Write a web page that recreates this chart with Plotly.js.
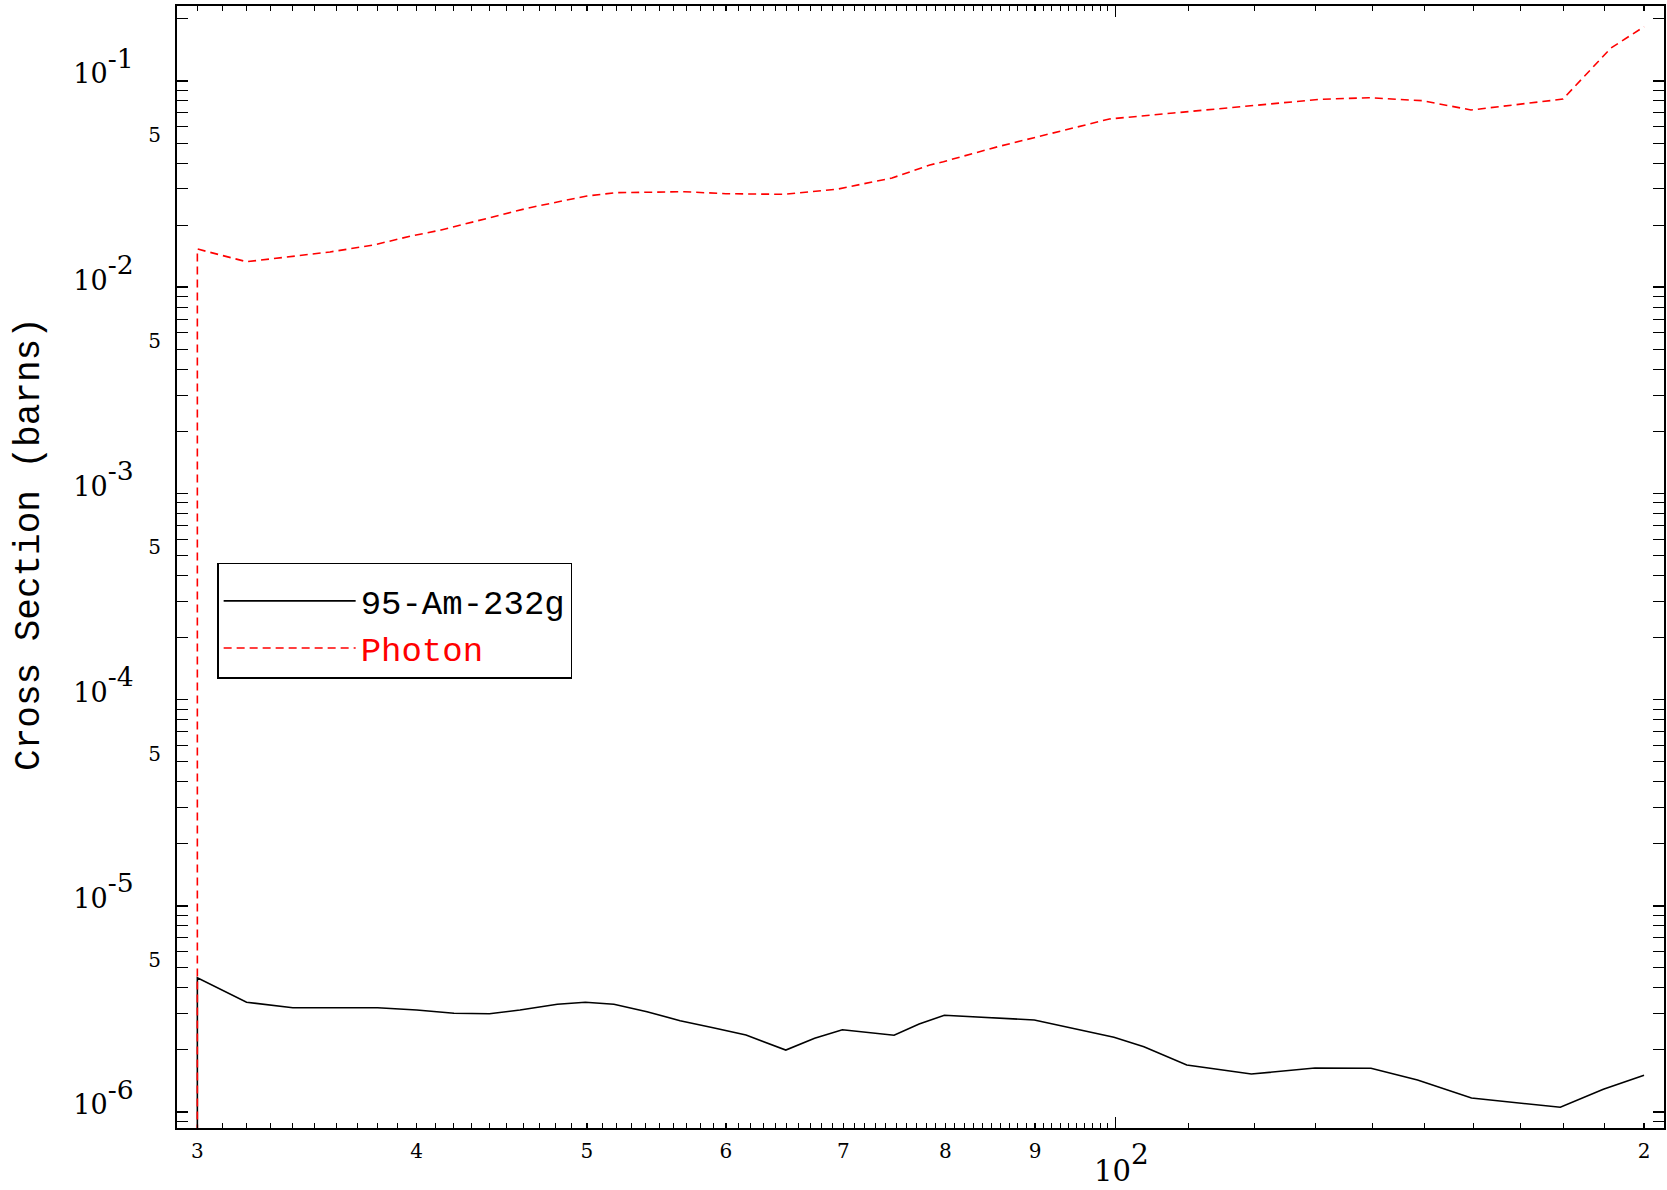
<!DOCTYPE html>
<html>
<head>
<meta charset="utf-8">
<script src="https://cdn.plot.ly/plotly-3.0.1.min.js"></script>
<style>html,body{margin:0;padding:0;background:#fff;}#chart{width:1667px;height:1190px;}</style>
</head>
<body>
<div id="chart"></div>
<script>
// ---- data ----
const energyAm = [30, 30, 32, 34, 38, 40, 42, 44, 45.8, 48.1, 49.9, 51.8, 54.1, 56.5, 59, 61.6, 64.9, 67.4, 69.9, 74.8, 77.3, 79.9, 89.9, 99.8, 103.8, 109.8, 119.5, 129.9, 139.8, 148.6, 159.5, 179.2, 189.6, 200];
const xsAm = [1e-9, 4.48e-6, 3.404e-6, 3.205e-6, 3.205e-6, 3.124e-6, 3.011e-6, 2.997e-6, 3.124e-6, 3.329e-6, 3.404e-6, 3.329e-6, 3.065e-6, 2.772e-6, 2.563e-6, 2.362e-6, 1.998e-6, 2.277e-6, 2.506e-6, 2.355e-6, 2.672e-6, 2.944e-6, 2.793e-6, 2.303e-6, 2.073e-6, 1.690e-6, 1.528e-6, 1.634e-6, 1.631e-6, 1.429e-6, 1.169e-6, 1.054e-6, 1.288e-6, 1.507e-6];

const energyPhoton = [30, 30, 32, 35.7, 37.8, 39.7, 41.3, 44, 46.3, 48.1, 50, 51.9, 56.8, 60, 64.8, 69.5, 74.6, 78.4, 79.8, 85.7, 91.3, 99.2, 107.9, 118, 130.8, 139.4, 149.6, 159.4, 179.8, 191.5, 200];
const xsPhoton = [1e-9, 0.01532, 0.01329, 0.01482, 0.01602, 0.01771, 0.01894, 0.02166, 0.02422, 0.02589, 0.02769, 0.02873, 0.02904, 0.02840, 0.02821, 0.02993, 0.03385, 0.03914, 0.04062, 0.04801, 0.05470, 0.06541, 0.06996, 0.07505, 0.08152, 0.08298, 0.08025, 0.07234, 0.0817, 0.1445, 0.1834];

const seriesNames = ['95-Am-232g', 'Photon'];
const seriesColors = ['#000000', '#ff0000'];
const yTitle = 'Cross Section (barns)';

const xTickVals = [30, 40, 50, 60, 70, 80, 90, 200];
const xTickText = ['3', '4', '5', '6', '7', '8', '9', '2'];
const xDecadeVals = [100];
const xDecadeText = ['10<span style="font-size:40px"><sup>2</sup></span>'];
const xMinorVals = [];
for (let v = 31; v < 100; v++) { if (v % 10 !== 0) xMinorVals.push(v); }
for (let v = 110; v < 200; v += 10) xMinorVals.push(v);

const yTickVals = [1e-1, 1e-2, 1e-3, 1e-4, 1e-5, 1e-6];
const yExponents = ['-1', '-2', '-3', '-4', '-5', '-6'];
const yTickText = yExponents.map(e => '10<span style="font-size:38px"><sup>' + e + '</sup></span>');
const yFiveVals = [5e-2, 5e-3, 5e-4, 5e-5, 5e-6];
const yFiveText = ['5', '5', '5', '5', '5'];
const yMinorVals = [];
for (let e = -7; e <= -1; e++) { for (let m = 2; m <= 9; m++) yMinorVals.push(m * Math.pow(10, e)); }

const xRange = [Math.log10(29.21), Math.log10(205.3)];
const yRange = [-6.0776, -0.6363];

const traces = [
  {x: energyAm, y: xsAm, name: seriesNames[0], type: 'scatter', mode: 'lines',
   line: {color: seriesColors[0], width: 1.6}},
  {x: energyPhoton, y: xsPhoton, name: '<span style="color:#ff0000">' + seriesNames[1] + '</span>', type: 'scatter', mode: 'lines',
   line: {color: seriesColors[1], width: 1.6, dash: '8px,5px'}},
  // helpers (draw nothing) so that the overlay axes carrying extra tick labels are rendered
  {x: energyAm, y: xsAm, xaxis: 'x2', yaxis: 'y', mode: 'none', type: 'scatter', showlegend: false, hoverinfo: 'skip'},
  {x: energyAm, y: xsAm, xaxis: 'x', yaxis: 'y2', mode: 'none', type: 'scatter', showlegend: false, hoverinfo: 'skip'}
];

const layout = {
  width: 1667, height: 1190,
  margin: {l: 177, r: 3, t: 6, b: 62, pad: 0},
  paper_bgcolor: '#fff', plot_bgcolor: '#fff',
  showlegend: true,
  legend: {
    x: 0.027, y: 0.5036, xanchor: 'left', yanchor: 'top',
    bordercolor: '#000', borderwidth: 1.5, bgcolor: '#fff',
    font: {family: 'Liberation Mono, monospace', size: 34, color: '#000'},
    title: {text: ' ', font: {size: 6}},
    itemwidth: 132, tracegroupgap: 0
  },
  annotations: [
    {text: yTitle, xref: 'paper', yref: 'paper', x: -0.0989, y: 0.5205,
     xanchor: 'center', yanchor: 'middle', textangle: -90, showarrow: false,
     font: {family: 'Liberation Mono, monospace', size: 36, color: '#000'}}
  ],
  xaxis: {
    type: 'log', range: xRange, showgrid: false, zeroline: false,
    showline: true, linecolor: '#000', linewidth: 2, mirror: 'allticks',
    ticks: 'inside', ticklen: 5, tickwidth: 1.5, tickcolor: '#000',
    tickmode: 'array', tickvals: xTickVals, ticktext: xTickText,
    tickfont: {family: 'DejaVu Serif, serif', size: 20, color: '#000'},
    ticklabelstandoff: 4,
    minor: {tickmode: 'array', tickvals: xMinorVals, ticks: 'inside', ticklen: 3, tickwidth: 1, tickcolor: '#000', showgrid: false}
  },
  xaxis2: {
    type: 'log', range: xRange, overlaying: 'x', anchor: 'y', side: 'bottom',
    showgrid: false, zeroline: false, showline: false, mirror: 'ticks',
    ticks: 'inside', ticklen: 11, tickwidth: 1.5, tickcolor: '#000',
    tickmode: 'array', tickvals: xDecadeVals, ticktext: xDecadeText,
    tickfont: {family: 'DejaVu Serif, serif', size: 29, color: '#000'},
    ticklabelstandoff: 23, ticklabelshift: 6
  },
  yaxis: {
    type: 'log', range: yRange, showgrid: false, zeroline: false,
    showline: true, linecolor: '#000', linewidth: 2, mirror: 'allticks',
    ticks: 'inside', ticklen: 11, tickwidth: 1.5, tickcolor: '#000',
    tickmode: 'array', tickvals: yTickVals, ticktext: yTickText,
    tickfont: {family: 'DejaVu Serif, serif', size: 27, color: '#000'},
    ticklabelstandoff: 36, ticklabelshift: -7,
    minor: {tickmode: 'array', tickvals: yMinorVals, ticks: 'inside', ticklen: 5, tickwidth: 1, tickcolor: '#000', showgrid: false}
  },
  yaxis2: {
    type: 'log', range: yRange, overlaying: 'y', anchor: 'x', side: 'left',
    showgrid: false, zeroline: false, showline: false,
    ticks: '', tickmode: 'array', tickvals: yFiveVals, ticktext: yFiveText,
    tickfont: {family: 'DejaVu Serif, serif', size: 20, color: '#000'},
    ticklabelstandoff: 15, ticklabelshift: -8
  }
};

Plotly.newPlot('chart', traces, layout, {displayModeBar: false, staticPlot: true});
</script>
</body>
</html>
